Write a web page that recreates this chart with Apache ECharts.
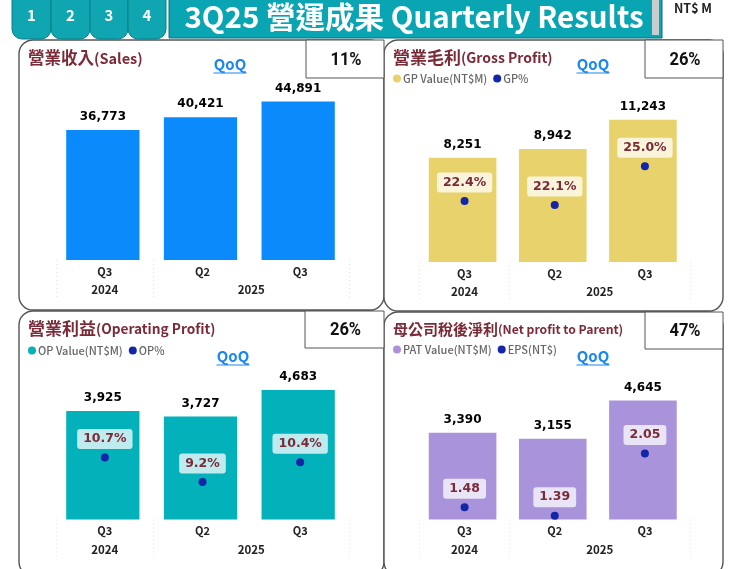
<!DOCTYPE html>
<html>
<head>
<meta charset="utf-8">
<style>html,body{margin:0;padding:0;background:#fff}#main{width:740px;height:569px}</style>
<script src="https://cdn.jsdelivr.net/npm/echarts@6/dist/echarts.min.js"></script>
</head>
<body>
<div id="main"></div>
<script>
var quarters = ['Q3', 'Q2', 'Q3'];
var years = ['2024', '2025'];
var yearSpans = [1, 2];

var salesValues = [36773, 40421, 44891];
var gpValues = [8251, 8942, 11243];
var gpPct = [22.4, 22.1, 25.0];
var opValues = [3925, 3727, 4683];
var opPct = [10.7, 9.2, 10.4];
var patValues = [3390, 3155, 4645];
var epsValues = [1.48, 1.39, 2.05];

var qoqTexts = ['11%', '26%', '26%', '47%'];
var tabs = ['1', '2', '3', '4'];

var CJK = '"Noto Sans CJK TC","Noto Sans",sans-serif';
var NUM = '"DejaVu Sans",sans-serif';
var TITLE_RED = '#7b2b38';
var DOT = '#1426a8';

// year axis positions, from the spans
var yearCenters = [], yearEdges = [0], pos = 0;
yearSpans.forEach(function(s) {
    yearCenters.push(pos + s / 2);
    pos += s;
    yearEdges.push(pos);
});

var panels = [
    {
        left: 56, width: 293, top: 48, height: 212, max: 60000,
        barName: 'Sales', color: '#0b8bfb', bars: salesValues,
        box: [19, 40, 365, 270], kpi: [306, 40, 78, 38],
        head: ['營業收入', '(Sales)'], headAt: [28, 58], headSizes: [16.5, 14.5],
        qoqAt: [230, 64]
    },
    {
        left: 419.5, width: 270.5, top: 110.3, height: 151.7, max: 12000,
        barName: 'GP Value(NT$M)', color: '#e8d26b', bars: gpValues,
        dotName: 'GP%', dots: gpPct, dotMin: 17.85, dotMax: 29.17, digits: 1, unit: '%',
        box: [384, 40, 339, 271], kpi: [645, 40, 78, 38],
        head: ['營業毛利', '(Gross Profit)'], headAt: [393, 58], headSizes: [17, 14],
        qoqAt: [593, 64], legendAt: [388, 68]
    },
    {
        left: 56, width: 293, top: 381.3, height: 138.2, max: 5000,
        barName: 'OP Value(NT$M)', color: '#03b1bb', bars: opValues,
        dotName: 'OP%', dots: opPct, dotMin: 6.9, dotMax: 15.36, digits: 1, unit: '%',
        box: [19, 311, 365, 265], kpi: [305, 311, 79, 37],
        head: ['營業利益', '(Operating Profit)'], headAt: [28, 329], headSizes: [17, 13.7],
        qoqAt: [233, 356], legendAt: [23, 340]
    },
    {
        left: 419.5, width: 270.5, top: 391.5, height: 128, max: 5000,
        barName: 'PAT Value(NT$M)', color: '#a993db', bars: patValues,
        dotName: 'EPS(NT$)', dots: epsValues, dotMin: 1.35, dotMax: 2.71, digits: 2, unit: '',
        box: [384, 312, 339, 264], kpi: [645, 312, 78, 37],
        head: ['母公司稅後淨利', '(Net profit to Parent)'], headAt: [393, 329], headSizes: [15, 12.2],
        qoqAt: [593, 356], legendAt: [388, 339]
    }
];

var axisGrids = [], barGrids = [], xAxes = [], yAxes = [], series = [], legends = [], graphics = [];

// header tabs and banner
tabs.forEach(function(t, i) {
    var xs = [12, 51, 90, 128, 166];
    graphics.push({
        type: 'rect', z: 1,
        shape: { x: xs[i], y: -10, width: xs[i + 1] - xs[i], height: 49, r: [0, 0, 10, 10] },
        style: { fill: '#0fa6b2', stroke: '#0b7f8a', lineWidth: 1 }
    });
    graphics.push({
        type: 'text', z: 2, x: (xs[i] + xs[i + 1]) / 2, y: 15,
        style: { text: t, fill: '#fff', font: 'bold 15px ' + CJK, textAlign: 'center', textVerticalAlign: 'middle' }
    });
});
graphics.push({
    type: 'rect', z: 1,
    shape: { x: 169, y: -4, width: 493, height: 42 },
    style: { fill: '#0aa5b2', stroke: '#0b6f78', lineWidth: 1 }
});
graphics.push({
    type: 'rect', z: 2,
    shape: { x: 652, y: 0, width: 7, height: 35 },
    style: { fill: '#c9cdd0' }
});
graphics.push({
    type: 'text', z: 2, x: 414, y: 17,
    style: { text: '3Q25 營運成果 Quarterly Results', fill: '#fff', font: 'bold 29.5px ' + CJK, textAlign: 'center', textVerticalAlign: 'middle' }
});
graphics.push({
    type: 'text', z: 2, x: 693, y: 8.5,
    style: { text: 'NT$ M', fill: '#222', font: 'bold 12.5px ' + CJK, textAlign: 'center', textVerticalAlign: 'middle' }
});

panels.forEach(function(p, i) {
    graphics.push({
        type: 'rect', z: 0,
        shape: { x: p.box[0], y: p.box[1], width: p.box[2], height: p.box[3], r: 14 },
        style: { fill: '#fff', stroke: '#555', lineWidth: 1.4 }
    });
    graphics.push({
        type: 'rect', z: 1,
        shape: { x: p.kpi[0], y: p.kpi[1], width: p.kpi[2], height: p.kpi[3] },
        style: { fill: '#fff', stroke: '#555', lineWidth: 1 }
    });
    graphics.push({
        type: 'text', z: 2, x: p.kpi[0] + p.kpi[2] / 2 + 1, y: p.kpi[1] + p.kpi[3] / 2 + 1, scaleX: 0.87,
        style: { text: qoqTexts[i], fill: '#111', font: 'bold 19px Roboto,' + CJK, textAlign: 'center', textVerticalAlign: 'middle' }
    });
    graphics.push({
        type: 'text', z: 2, x: p.headAt[0], y: p.headAt[1],
        style: {
            text: '{a|' + p.head[0] + '}{b|' + p.head[1] + '}',
            textVerticalAlign: 'middle',
            rich: {
                a: { fill: TITLE_RED, fontWeight: 'bold', fontSize: p.headSizes[0], fontFamily: CJK },
                b: { fill: TITLE_RED, fontWeight: 'bold', fontSize: p.headSizes[1], fontFamily: CJK }
            }
        }
    });
    graphics.push({
        type: 'text', z: 2, x: p.qoqAt[0], y: p.qoqAt[1],
        style: { text: 'QoQ', fill: '#1a86f0', font: 'bold 15px ' + CJK, textAlign: 'center', textVerticalAlign: 'middle' }
    });
    graphics.push({
        type: 'line', z: 2,
        shape: { x1: p.qoqAt[0] - 16.5, y1: p.qoqAt[1] + 9, x2: p.qoqAt[0] + 16.5, y2: p.qoqAt[1] + 9 },
        style: { stroke: '#1a86f0', lineWidth: 1 }
    });

    // the bars sit 2px left of the axis labels and dots, so they get their own grid
    axisGrids.push({ left: p.left, width: p.width, top: p.top, height: p.height });
    barGrids.push({ left: p.left - 2, width: p.width, top: p.top, height: p.height });

    // quarter row
    xAxes.push({
        type: 'category', gridIndex: i, data: quarters,
        axisLine: { show: false }, axisTick: { show: false }, splitLine: { show: false },
        axisLabel: { color: '#222', fontFamily: CJK, fontWeight: 'bold', fontSize: 11, margin: 6 }
    });
    // year row, with the dotted separators as ticks
    xAxes.push({
        type: 'value', gridIndex: i, min: 0, max: 3, position: 'bottom',
        axisLine: { show: false }, splitLine: { show: false },
        axisTick: {
            show: true, length: 38, customValues: yearEdges,
            lineStyle: { color: '#e2e2e2', type: [1, 3], width: 1 }
        },
        axisLabel: {
            color: '#222', fontFamily: CJK, fontWeight: 'bold', fontSize: 11.5, margin: 24,
            customValues: yearCenters,
            formatter: function(v) { return years[yearCenters.indexOf(v)]; }
        }
    });
    xAxes.push({ type: 'category', gridIndex: i + 4, data: quarters, show: false });

    yAxes.push({ type: 'value', gridIndex: i + 4, min: 0, max: p.max, show: false });
    yAxes.push({ type: 'value', gridIndex: i, min: p.dotMin || 0, max: p.dotMax || 1, show: false });

    series.push({
        name: p.barName, type: 'bar', xAxisIndex: i * 3 + 2, yAxisIndex: i * 2,
        data: p.bars, barWidth: '75%',
        itemStyle: { color: p.color },
        label: {
            show: true, position: 'top', distance: 7, color: '#000',
            fontFamily: NUM, fontWeight: 'bold', fontSize: 12,
            formatter: function(o) { return o.value.toLocaleString('en-US'); }
        }
    });

    if (p.dots) {
        series.push({
            name: p.dotName, type: 'scatter', xAxisIndex: i * 3, yAxisIndex: i * 2 + 1,
            data: p.dots, symbolSize: 8, z: 5,
            itemStyle: { color: DOT, opacity: 1 },
            label: {
                show: true, position: 'top', distance: 4.5, color: TITLE_RED,
                fontFamily: NUM, fontWeight: 'bold', fontSize: 12.5,
                backgroundColor: 'rgba(255,255,255,0.75)', borderRadius: 3, padding: [3.5, 6],
                formatter: function(o) { return o.value.toFixed(p.digits) + p.unit; }
            }
        });
        legends.push({
            left: p.legendAt[0], top: p.legendAt[1],
            data: [p.barName, p.dotName], selectedMode: false,
            icon: 'circle', itemWidth: 8, itemHeight: 8, itemGap: 6,
            textStyle: { color: '#666', fontFamily: CJK, fontWeight: 500, fontSize: 11, padding: [0, 0, 0, -3] }
        });
    }
});

var chart = echarts.init(document.getElementById('main'), null, { renderer: 'canvas' });
chart.setOption({
    animation: false,
    backgroundColor: '#fff',
    grid: axisGrids.concat(barGrids),
    xAxis: xAxes,
    yAxis: yAxes,
    legend: legends,
    series: series,
    graphic: graphics
});
</script>
</body>
</html>
